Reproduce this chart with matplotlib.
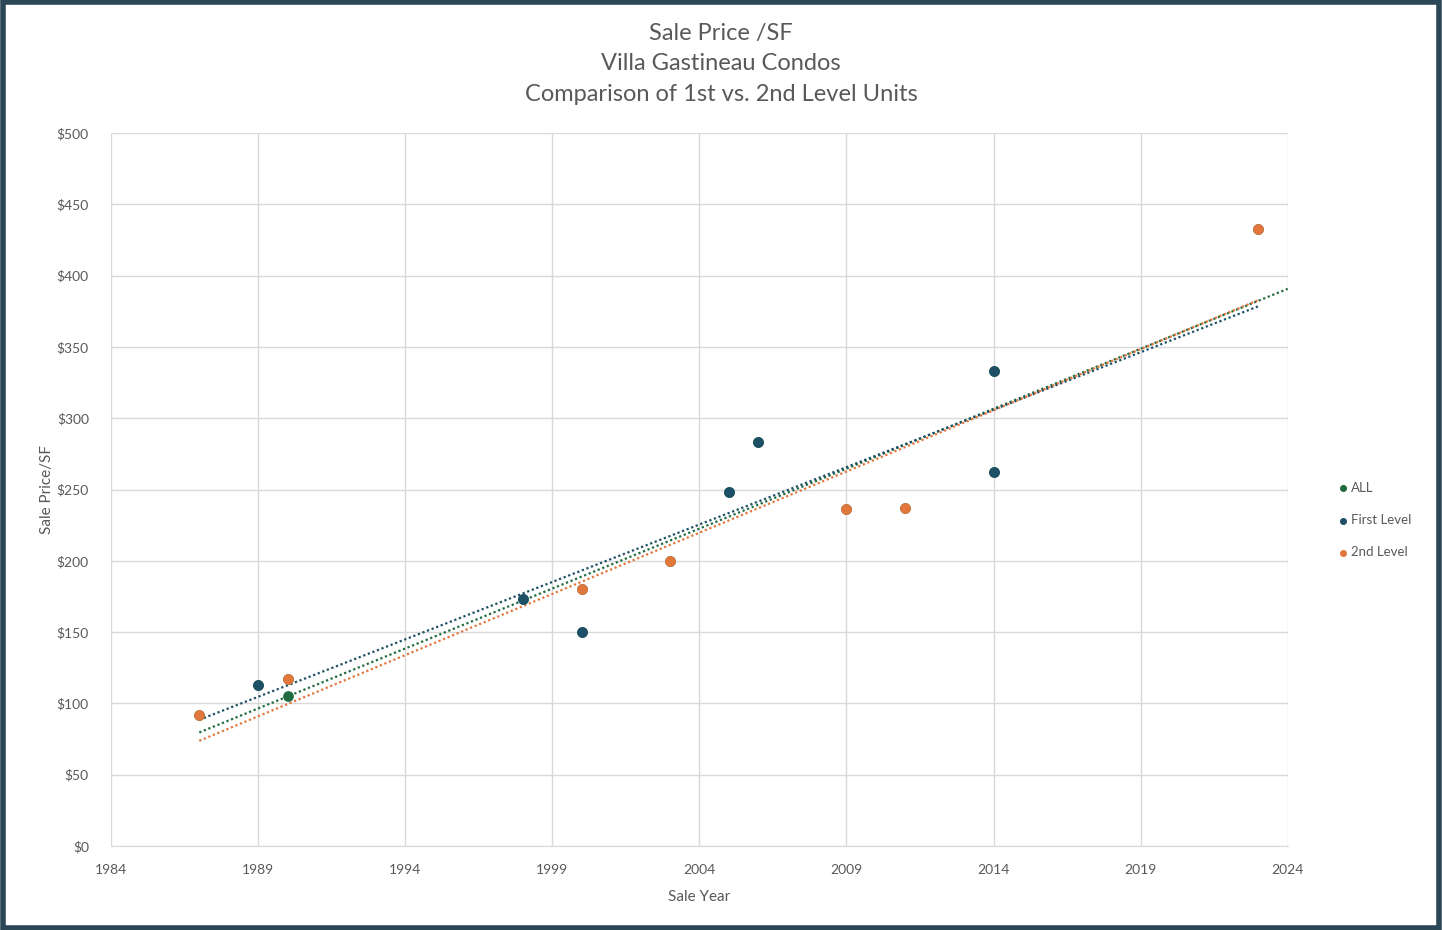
import matplotlib.pyplot as plt
import numpy as np
from matplotlib.patches import Rectangle

plt.rcParams['font.family'] = ['Lato', 'DejaVu Sans']

# sale year / price per square foot
first_year = [1989, 1998, 2000, 2005, 2006, 2014, 2014]
first_price = [113, 173, 150, 248, 283, 333, 262]

second_year = [1987, 1990, 2000, 2003, 2009, 2011, 2023]
second_price = [92, 117, 180, 200, 236, 237, 433]

# the one sale without a level on record, plus everything above
other_year = [1990]
other_price = [105]
all_year = other_year + first_year + second_year
all_price = other_price + first_price + second_price

year_ticks = [1984, 1989, 1994, 1999, 2004, 2009, 2014, 2019, 2024]
price_ticks = [0, 50, 100, 150, 200, 250, 300, 350, 400, 450, 500]

c_all = '#1f6b3f'
c_first = '#1d4f66'
c_second = '#e2773c'
grey = '#595959'

fig = plt.figure(figsize=(14.42, 9.30), dpi=100)
ax = fig.add_axes([0.077, 0.0903, 0.816, 0.7667])

ax.scatter(all_year, all_price, s=45, color=c_all, zorder=3, label='ALL')
ax.scatter(first_year, first_price, s=45, color=c_first, zorder=4, label='First Level')
ax.scatter(second_year, second_price, s=45, color=c_second, zorder=5, label='2nd Level')

# linear trendlines
def trend(xs, ys, x0, x1, color):
    m, b = np.polyfit(xs, ys, 1)
    xx = np.array([x0, x1])
    ax.plot(xx, m * xx + b, linestyle=(0, (1, 1.2)), linewidth=1.6, color=color, zorder=2)

trend(all_year, all_price, 1987, 2024, c_all)
trend(first_year, first_price, 1987, 2023, c_first)
trend(second_year, second_price, 1987, 2023, c_second)

ax.set_xlim(1984, 2024)
ax.set_ylim(0, 500)
ax.set_xticks(year_ticks)
ax.set_yticks(price_ticks)
ax.set_yticklabels(['$%d' % p for p in price_ticks])
ax.tick_params(length=0, labelsize=10, colors=grey)
ax.tick_params(axis='x', pad=13)
ax.tick_params(axis='y', pad=16)
ax.grid(True, color='#d9d9d9', linewidth=1)
ax.set_axisbelow(True)
for s in ['top', 'right', 'left']:
    ax.spines[s].set_visible(False)
ax.spines['bottom'].set_color('#d9d9d9')

ax.set_xlabel('Sale Year', fontsize=11, color=grey, labelpad=10)
ax.set_ylabel('Sale Price/SF', fontsize=11, color=grey, labelpad=2)

fig.text(0.5, 1 - 64 / 930, 'Sale Price /SF\nVilla Gastineau Condos\nComparison of 1st vs. 2nd Level Units',
         ha='center', va='center', fontsize=17, color=grey, linespacing=1.55)

fig.legend(loc='center left', bbox_to_anchor=(0.922, 1 - 520 / 930), frameon=False,
           fontsize=9.5, handletextpad=-0.4, labelspacing=1.55, markerscale=0.6,
           labelcolor=grey, borderpad=0, borderaxespad=0)

fig.patches.append(Rectangle((0.002, 0.002), 0.996, 0.996, transform=fig.transFigure,
                             fill=False, edgecolor='#2b4656', linewidth=4))

fig.savefig('out.png', dpi=100)
